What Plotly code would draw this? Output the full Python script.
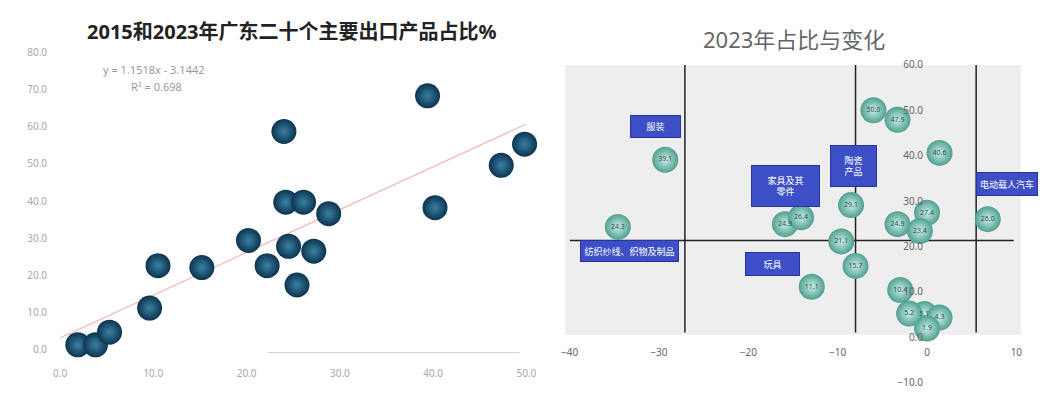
import numpy as np
import plotly.graph_objects as go

# ---------- Left chart data: 2015 share (x) vs 2023 share (y) ----------
share_2015 = [1.9, 3.8, 5.3, 9.6, 10.5, 15.2, 20.2, 22.2, 24.0, 24.2,
              24.5, 26.1, 25.4, 27.2, 28.8, 39.4, 40.2, 47.3, 49.8]
share_2023 = [1.3, 1.3, 4.7, 11.2, 22.6, 22.1, 29.4, 22.6, 58.7, 39.7,
              27.8, 39.7, 17.4, 26.5, 36.6, 68.3, 38.2, 49.6, 55.3]

# ---------- Right chart data: change (x) vs 2023 share (y) ----------
change = [-29.3, -34.6, -15.9, -14.1, -12.9, -8.5, -9.6, -8.0, -6.0, -3.3,
          1.4, -3.3, 0.0, -0.8, 6.8, -3.0, -0.3, 1.4, 0.0, -2.0]
share_2023_r = [39.1, 24.3, 24.9, 26.4, 11.1, 29.1, 21.1, 15.7, 50.0, 47.9,
                40.6, 24.9, 27.4, 23.4, 26.0, 10.4, 5.1, 4.3, 1.9, 5.2]

vline_x = [-27.1, -8.0, 5.5]
hline_y = 21.3

box_labels = ["服装", "家具及其<br>零件", "陶瓷<br>产品", "电动载人汽车",
              "纺织纱线、织物及制品", "玩具"]
box_x = [-30.4, -15.8, -8.2, 9.0, -33.3, -17.3]
box_y = [46.4, 33.4, 37.7, 33.8, 18.9, 16.2]
box_w = [47, 65, 43, 58, 95, 51]
box_h = [19, 38, 38, 20, 18, 20]

left_title = "2015和2023年广东二十个主要出口产品占比%"
right_title = "2023年占比与变化"

W, H = 1046, 403
def px(v): return v / W
def py(v): return (H - v) / H

# regression
slope, intercept = np.polyfit(share_2015, share_2023, 1)
pred = np.polyval([slope, intercept], share_2015)
ss_res = np.sum((np.array(share_2023) - pred) ** 2)
ss_tot = np.sum((np.array(share_2023) - np.mean(share_2023)) ** 2)
r2 = 1 - ss_res / ss_tot
fit_x = [0, 50]
fit_y = list(np.polyval([slope, intercept], fit_x))

fig = go.Figure()

# trendline
fig.add_trace(go.Scatter(x=fit_x, y=fit_y, mode="lines",
                         line=dict(color="rgba(235,140,140,0.6)", width=1.2),
                         xaxis="x", yaxis="y", hoverinfo="skip", showlegend=False))
# left spheres
fig.add_trace(go.Scatter(x=share_2015, y=share_2023, mode="markers",
                         marker=dict(size=25, color="#0c3450",
                                     gradient=dict(type="radial", color="#3a80a2"),
                                     line=dict(width=0)),
                         xaxis="x", yaxis="y", cliponaxis=False, showlegend=False))

# right reference lines
for vx in vline_x:
    fig.add_trace(go.Scatter(x=[vx, vx], y=[1.0, 60.5], mode="lines",
                             line=dict(color="#222222", width=1.5),
                             xaxis="x2", yaxis="y2", hoverinfo="skip", showlegend=False))
fig.add_trace(go.Scatter(x=[-40, 9.7], y=[hline_y, hline_y], mode="lines",
                         line=dict(color="#222222", width=1.5),
                         xaxis="x2", yaxis="y2", hoverinfo="skip", showlegend=False))

# right spheres
fig.add_trace(go.Scatter(x=change, y=share_2023_r, mode="markers+text",
                         text=[f"{v:.1f}" for v in share_2023_r],
                         textposition="middle center",
                         textfont=dict(size=7, color="#2f4f4a"),
                         marker=dict(size=26, color="#4f9f90",
                                     gradient=dict(type="radial", color="#c9efe7"),
                                     line=dict(width=0)),
                         xaxis="x2", yaxis="y2", cliponaxis=False, showlegend=False))

annotations = []
for t, bx, by, bw, bh in zip(box_labels, box_x, box_y, box_w, box_h):
    annotations.append(dict(x=bx, y=by, xref="x2", yref="y2", text=t, showarrow=False,
                            font=dict(size=9, color="white", family="Noto Sans CJK SC"),
                            bgcolor="#3c4fc6", bordercolor="#27359c", borderwidth=1,
                            width=bw, height=bh, align="center"))

annotations += [
    dict(x=px(288), y=py(25), xref="paper", yref="paper", text=f"<b>{left_title}</b>",
         xanchor="center", yanchor="middle", showarrow=False,
         font=dict(size=20, color="#222222", family="Noto Sans, Noto Sans CJK SC")),
    dict(x=px(800), y=py(33), xref="paper", yref="paper", text=right_title,
         xanchor="center", yanchor="middle", showarrow=False,
         font=dict(size=22, color="#666666", family="Noto Sans, Noto Sans CJK SC")),
    dict(x=px(148), y=py(65), xref="paper", yref="paper",
         xanchor="center", yanchor="middle",
         text=f"y = {slope:.4f}x - {abs(intercept):.4f}", showarrow=False,
         font=dict(size=11, color="#9a9a9a")),
    dict(x=px(150), y=py(82), xref="paper", yref="paper",
         xanchor="center", yanchor="middle",
         text=f"R² = {r2:.3f}", showarrow=False, font=dict(size=11, color="#9a9a9a")),
]

shapes = [
    dict(type="rect", xref="x2 domain", yref="y2", x0=-0.01, x1=1.01, y0=0.5, y1=61.5,
         fillcolor="#eeeeee", line=dict(width=0), layer="below"),
    dict(type="line", xref="paper", yref="paper", x0=px(263), x1=px(520),
         y0=py(358), y1=py(358), line=dict(color="#d0d0d0", width=1)),
]

fig.update_layout(
    width=W, height=H,
    margin=dict(l=0, r=0, t=0, b=0),
    paper_bgcolor="white", plot_bgcolor="rgba(0,0,0,0)",
    font=dict(family="Noto Sans, Noto Sans CJK SC", color="#888888"),
    showlegend=False,
    xaxis=dict(domain=[px(52), px(527)], range=[0, 50], tickvals=[0, 10, 20, 30, 40, 50],
               tickformat=".1f", showgrid=False, zeroline=False, showline=False,
               tickfont=dict(size=10, color="#a8a8a8"), ticks="", anchor="y",
               ticklabelstandoff=16),
    yaxis=dict(domain=[py(355), py(47)], range=[0, 80], dtick=10, tickformat=".1f",
               showgrid=False, zeroline=False, showline=False, ticks="",
               tickfont=dict(size=10, color="#a8a8a8"), anchor="x", ticklabelstandoff=12),
    xaxis2=dict(domain=[px(571), px(1026)], range=[-40, 10], dtick=10, tickformat="d",
                showgrid=False, zeroline=False, showline=False, ticks="",
                tickfont=dict(size=10, color="#666666"),
                anchor="free", position=py(342), ticklabelstandoff=8),
    yaxis2=dict(domain=[py(389), py(60)], range=[-10, 60], dtick=10, tickformat=".1f",
                showgrid=False, zeroline=False, showline=False, ticks="",
                tickfont=dict(size=10, color="#666666"),
                anchor="free", position=px(935), ticklabelstandoff=4),
    annotations=annotations,
    shapes=shapes,
)

fig.write_html("out.html")
